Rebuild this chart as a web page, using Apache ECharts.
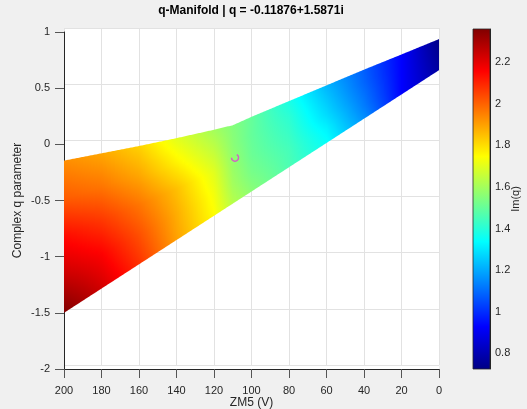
<!DOCTYPE html>
<html>
<head>
<meta charset="utf-8">
<script src="https://cdn.jsdelivr.net/npm/echarts@6/dist/echarts.min.js"></script>
<style>
html,body{margin:0;padding:0;background:#f0f0f0;}
#chart{width:527px;height:409px;}
</style>
</head>
<body>
<div id="chart"></div>
<script>
// ---------------- data ----------------
const titleText = 'q-Manifold | q = -0.11876+1.5871i';
const xTicks = [200, 180, 160, 140, 120, 100, 80, 60, 40, 20, 0];
const yTicks = [-2, -1.5, -1, -0.5, 0, 0.5, 1];
const cbTicks = [0.8, 1, 1.2, 1.4, 1.6, 1.8, 2, 2.2];
const cbMin = 0.725, cbMax = 2.36;

// surface mesh columns (ZM5, V) and edges of the sheet (Complex q parameter)
const xCols   = [200, 180, 160, 140, 120, 110, 100, 80, 60, 40, 20, 0];
const yBottom = [-1.50, -1.284, -1.068, -0.852, -0.636, -0.528, -0.42, -0.204, 0.012, 0.228, 0.444, 0.66];
const yTop    = [-0.145, -0.08, -0.015, 0.055, 0.13, 0.17, 0.245, 0.385, 0.525, 0.665, 0.80, 0.937];
const rowFrac = [0, 0.25, 0.5, 0.75, 1];

// Im(q) on each mesh row (bottom edge -> top edge)
const imqRow0 = [2.36, 2.23, 2.08, 1.90, 1.75, 1.63, 1.56, 1.46, 1.35, 1.16, 0.93, 0.77];
const imqRow1 = [2.24, 2.16, 2.03, 1.88, 1.73, 1.60, 1.53, 1.45, 1.32, 1.13, 0.93, 0.76];
const imqRow2 = [2.14, 2.07, 1.97, 1.85, 1.70, 1.58, 1.51, 1.43, 1.28, 1.11, 0.93, 0.75];
const imqRow3 = [2.01, 1.97, 1.89, 1.77, 1.65, 1.56, 1.50, 1.41, 1.25, 1.09, 0.93, 0.74];
const imqRow4 = [1.93, 1.89, 1.82, 1.70, 1.60, 1.55, 1.50, 1.38, 1.22, 1.08, 0.93, 0.73];
const imqRows = [imqRow0, imqRow1, imqRow2, imqRow3, imqRow4];

// current operating point
const markerX = 108.8, markerY = -0.11876;

const jetColors = ['#000084','#0000ff','#0080ff','#00ffff','#80ff80','#ffff00','#ff8000','#ff0000','#800000'];
// ---------------------------------------------------------------

const FONT = '"Liberation Sans", Arial, Helvetica, sans-serif';
const TXT = '#262626';
const M = 6; // colour stops per mesh row segment (interpolated shading)

function jet(v) {
  let t = (v - cbMin) / (cbMax - cbMin);
  t = Math.max(0, Math.min(1, t));
  return echarts.color.lerp(t, jetColors);
}

const surfData = [];
for (let i = 0; i < xCols.length - 1; i++) surfData.push([xCols[i], yBottom[i], i]);

const chart = echarts.init(document.getElementById('chart'), null, {renderer: 'canvas'});
const option = {
  animation: false,
  backgroundColor: '#f0f0f0',
  textStyle: {fontFamily: FONT},
  title: {
    text: titleText, left: 251, top: 5, textAlign: 'center', padding: 0,
    textStyle: {fontSize: 12, fontWeight: 'bold', color: '#000', fontFamily: FONT}
  },
  grid: [
    {left: 64, top: 32, width: 375, height: 337, show: true, backgroundColor: '#fff', borderWidth: 0, outerBoundsMode: 'none', containLabel: false},
    {left: 64, top: 28, width: 375, height: 337, show: true, backgroundColor: '#fff', borderWidth: 0, outerBoundsMode: 'none', containLabel: false},
    {left: 473, top: 29, width: 17, height: 340, outerBoundsMode: 'none', containLabel: false}
  ],
  xAxis: [
    {type: 'value', gridIndex: 0, min: 0, max: 200, interval: 20, inverse: true, position: 'bottom',
     axisLine: {show: true, onZero: false, lineStyle: {color: TXT, width: 1}},
     axisTick: {show: true, inside: false, length: 9, lineStyle: {color: '#555'}},
     axisLabel: {show: true, color: TXT, fontSize: 11, margin: 16, fontFamily: FONT},
     splitLine: {show: false},
     name: 'ZM5 (V)', nameLocation: 'middle', nameGap: 28, nameMoveOverlap: false,
     nameTextStyle: {fontSize: 12, color: TXT, fontFamily: FONT}},
    {type: 'value', gridIndex: 1, min: 0, max: 200, interval: 20, inverse: true,
     axisLine: {show: false, onZero: false}, axisTick: {show: false}, axisLabel: {show: false},
     splitLine: {show: true, lineStyle: {color: '#e2e2e2', width: 1}}},
    {type: 'value', gridIndex: 2, min: 0, max: 1, show: false}
  ],
  yAxis: [
    {type: 'value', gridIndex: 0, min: -2, max: 1, interval: 0.5, position: 'left',
     axisLine: {show: true, onZero: false, lineStyle: {color: TXT, width: 1}},
     axisTick: {show: true, inside: false, length: 9, lineStyle: {color: '#555'}},
     axisLabel: {show: true, color: TXT, fontSize: 11, margin: 14, fontFamily: FONT},
     splitLine: {show: false},
     name: 'Complex q parameter', nameLocation: 'middle', nameGap: 40, nameMoveOverlap: false,
     nameTextStyle: {fontSize: 12, color: TXT, fontFamily: FONT}},
    {type: 'value', gridIndex: 1, min: -2, max: 1, interval: 0.5,
     axisLine: {show: false, onZero: false}, axisTick: {show: false}, axisLabel: {show: false},
     splitLine: {show: true, lineStyle: {color: '#e2e2e2', width: 1}}},
    {type: 'value', gridIndex: 2, min: cbMin, max: cbMax, position: 'right',
     axisLine: {show: true, onZero: false, lineStyle: {color: TXT, width: 1}},
     axisTick: {show: true, inside: true, length: 3, customValues: cbTicks, lineStyle: {color: TXT}},
     axisLabel: {show: true, customValues: cbTicks, color: TXT, fontSize: 11, margin: 5, fontFamily: FONT,
                 formatter: v => String(+v.toFixed(2))},
     splitLine: {show: false},
     name: 'Im(q)', nameLocation: 'middle', nameGap: 20, nameMoveOverlap: false,
     nameTextStyle: {fontSize: 11, color: TXT, fontFamily: FONT}}
  ],
  series: [
    {
      type: 'custom', xAxisIndex: 0, yAxisIndex: 0, data: surfData, encode: {x: 0, y: 1}, z: 3,
      renderItem: function (params, api) {
        const i = api.value(2);
        const B0 = api.coord([xCols[i], yBottom[i]]), B1 = api.coord([xCols[i+1], yBottom[i+1]]);
        const T0 = api.coord([xCols[i], yTop[i]]), T1 = api.coord([xCols[i+1], yTop[i+1]]);
        const X0 = B0[0], X1 = B1[0];
        const yb = x => B0[1] + (x - X0) / (X1 - X0) * (B1[1] - B0[1]);
        const yt = x => T0[1] + (x - X0) / (X1 - X0) * (T1[1] - T0[1]);
        const start = Math.round(X0), end = Math.round(X1);
        const children = [];
        for (let px = start; px < end; px++) {
          const xc = px + 0.5;
          const u = Math.max(0, Math.min(1, (xc - X0) / (X1 - X0)));
          const Vr = imqRows.map(r => r[i] + u * (r[i+1] - r[i]));
          const stops = [];
          for (let j = 0; j < rowFrac.length - 1; j++) {
            for (let m = 0; m < M; m++) {
              const s = m / M;
              stops.push({offset: rowFrac[j] + s * (rowFrac[j+1] - rowFrac[j]), color: jet(Vr[j] + s * (Vr[j+1] - Vr[j]))});
            }
          }
          stops.push({offset: 1, color: jet(Vr[Vr.length - 1])});
          const fill = {type: 'linear', x: xc, y: yb(xc), x2: xc, y2: yt(xc), colorStops: stops, global: true};
          children.push({
            type: 'polygon',
            shape: {points: [[px, yb(px)], [px + 1, yb(px + 1)], [px + 1, yt(px + 1)], [px, yt(px)]]},
            style: {fill: fill}
          });
        }
        return {type: 'group', children: children};
      }
    },
    {
      type: 'custom', xAxisIndex: 0, yAxisIndex: 0, data: [[markerX, markerY]], encode: {x: 0, y: 1}, z: 5,
      renderItem: function (params, api) {
        const p = api.coord([api.value(0), api.value(1)]);
        return {type: 'arc', shape: {cx: p[0], cy: p[1], r: 3.5, startAngle: -Math.PI/3, endAngle: Math.PI, clockwise: true},
                style: {stroke: '#d45fc6', fill: null, lineWidth: 1.5}};
      }
    },
    {
      type: 'custom', xAxisIndex: 2, yAxisIndex: 2, data: [[0, cbMin, cbMax]], encode: {x: 0, y: 1}, z: 3,
      renderItem: function (params, api) {
        const top = api.coord([0, api.value(2)]);
        const bot = api.coord([1, api.value(1)]);
        const stops = jetColors.map((c, k) => ({offset: k/(jetColors.length-1), color: c}));
        return {type: 'rect', shape: {x: top[0], y: top[1], width: bot[0]-top[0], height: bot[1]-top[1]},
                style: {fill: {type: 'linear', x: 0, y: 1, x2: 0, y2: 0, colorStops: stops}, stroke: TXT, lineWidth: 0.8}};
      }
    }
  ]
};
chart.setOption(option);
</script>
</body>
</html>
